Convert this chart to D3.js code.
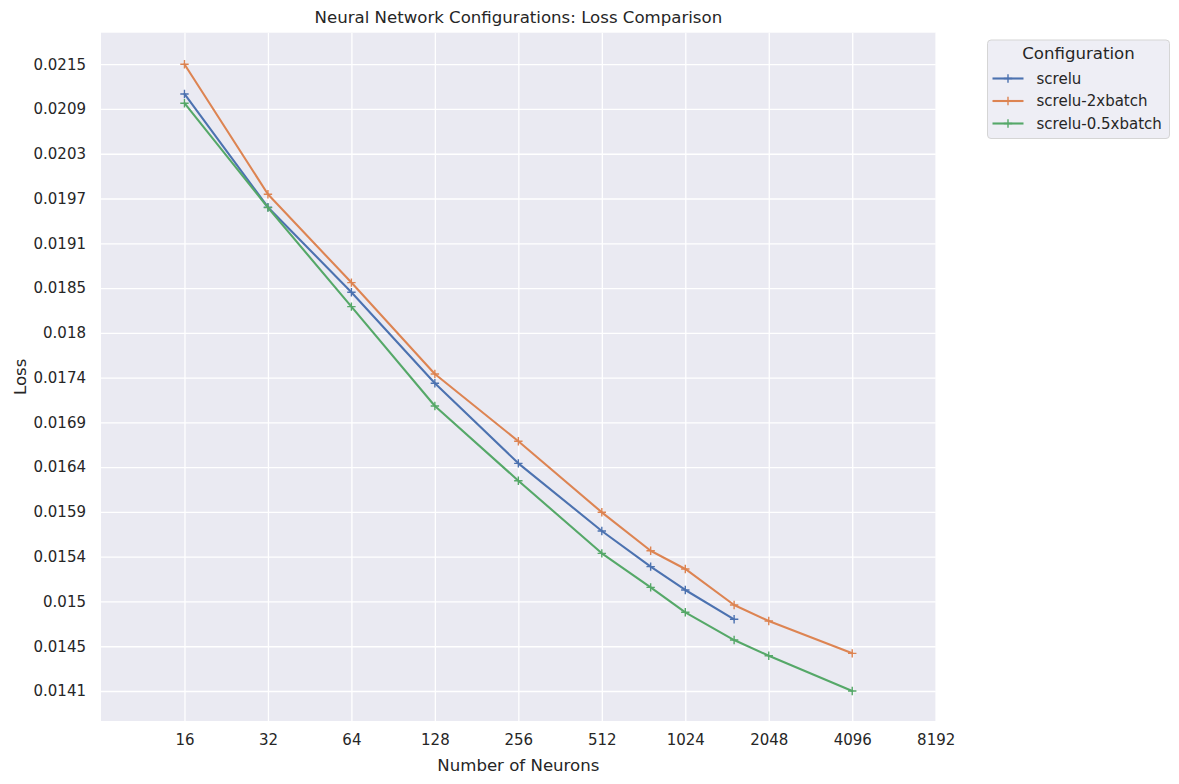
<!DOCTYPE html>
<html>
<head>
<meta charset="utf-8">
<script src="https://cdn.jsdelivr.net/npm/d3@7"></script>
<style>
    body { margin: 0; background: #ffffff; }
    svg text { font-family: "DejaVu Sans", sans-serif; fill: #262626; }
</style>
</head>
<body>
<svg id="chart" width="1179" height="784"></svg>
<script>
    // --- data ---
    var seriesNames = ["screlu", "screlu-2xbatch", "screlu-0.5xbatch"];
    var seriesColors = ["#4C72B0", "#DD8452", "#55A868"];

    var screluNeurons = [16, 32, 64, 128, 256, 512, 768, 1024, 1536];
    var batchNeurons = [16, 32, 64, 128, 256, 512, 768, 1024, 1536, 2048, 4096];

    var screluLoss = [0.021074, 0.019527, 0.018441, 0.017345, 0.016435, 0.015703, 0.015331, 0.015092, 0.014797];
    var screlu2xLoss = [0.021500, 0.019698, 0.018561, 0.017454, 0.016681, 0.015902, 0.015496, 0.015307, 0.014940, 0.014780, 0.014462];
    var screluHalfLoss = [0.020943, 0.019522, 0.018263, 0.017082, 0.016244, 0.015469, 0.015119, 0.014867, 0.014592, 0.014439, 0.014100];

    var xTickValues = [16, 32, 64, 128, 256, 512, 1024, 2048, 4096, 8192];
    var yTickLabels = ["0.0141", "0.0145", "0.015", "0.0154", "0.0159", "0.0164", "0.0169", "0.0174",
                       "0.018", "0.0185", "0.0191", "0.0197", "0.0203", "0.0209", "0.0215"];

    var series = [
        { name: seriesNames[0], color: seriesColors[0], x: screluNeurons, y: screluLoss },
        { name: seriesNames[1], color: seriesColors[1], x: batchNeurons, y: screlu2xLoss },
        { name: seriesNames[2], color: seriesColors[2], x: batchNeurons, y: screluHalfLoss }
    ];

    // --- layout ---
    var plot = { left: 101, top: 32.7, right: 935.7, bottom: 721 };
    var plotH = plot.bottom - plot.top;

    var svg = d3.select("#chart");

    var allLoss = screluLoss.concat(screlu2xLoss, screluHalfLoss);
    var yMin = d3.min(allLoss);
    var yMax = d3.max(allLoss);

    var x = d3.scaleLog().base(2)
        .domain([8, 8192])
        .range([plot.left, plot.right]);

    // data span with the axes' padding above and below
    var y = d3.scaleLog()
        .domain([yMin, yMax])
        .range([plot.bottom - 30, plot.top + 31.5]);

    // geometric ticks between min and max, labelled from yTickLabels
    var yTickValues = yTickLabels.map(function(d, i) {
        return yMin * Math.pow(yMax / yMin, i / (yTickLabels.length - 1));
    });

    // background
    svg.append("rect")
        .attr("x", plot.left)
        .attr("y", plot.top)
        .attr("width", plot.right - plot.left)
        .attr("height", plotH)
        .attr("fill", "#EAEAF2");

    // grid + tick labels via axes
    var xAxis = d3.axisBottom(x)
        .tickValues(xTickValues)
        .tickFormat(d3.format("d"))
        .tickSize(-plotH)
        .tickPadding(13);

    var gx = svg.append("g")
        .attr("transform", "translate(0," + plot.bottom + ")")
        .call(xAxis);
    gx.select(".domain").remove();
    gx.selectAll(".tick line").attr("stroke", "#ffffff").attr("stroke-width", 1.3);
    gx.selectAll(".tick text").attr("font-size", "15px").attr("fill", "#262626");

    var yAxis = d3.axisLeft(y)
        .tickValues(yTickValues)
        .tickFormat(function(d, i) { return yTickLabels[i]; })
        .tickSize(-(plot.right - plot.left))
        .tickPadding(15);

    var gy = svg.append("g")
        .attr("transform", "translate(" + plot.left + ",0)")
        .call(yAxis);
    gy.select(".domain").remove();
    gy.selectAll(".tick line").attr("stroke", "#ffffff").attr("stroke-width", 1.3);
    gy.selectAll(".tick text").attr("font-size", "15px").attr("fill", "#262626");

    // lines + '+' markers
    var line = d3.line()
        .x(function(d) { return x(d[0]); })
        .y(function(d) { return y(d[1]); });

    var markerSize = 4.2;

    series.forEach(function(s) {
        var pts = d3.zip(s.x, s.y);

        svg.append("path")
            .datum(pts)
            .attr("d", line)
            .attr("fill", "none")
            .attr("stroke", s.color)
            .attr("stroke-width", 2.1)
            .attr("stroke-linejoin", "round")
            .attr("stroke-linecap", "round");

        svg.append("g")
            .selectAll("path")
            .data(pts)
            .enter()
            .append("path")
            .attr("d", function(d) {
                var cx = x(d[0]), cy = y(d[1]);
                return "M" + (cx - markerSize) + "," + cy + "H" + (cx + markerSize) +
                       "M" + cx + "," + (cy - markerSize) + "V" + (cy + markerSize);
            })
            .attr("stroke", s.color)
            .attr("stroke-width", 1.4);
    });

    // title + axis labels
    svg.append("text")
        .attr("x", (plot.left + plot.right) / 2)
        .attr("y", 23)
        .attr("text-anchor", "middle")
        .attr("font-size", "16.6px")
        .text("Neural Network Configurations: Loss Comparison");

    svg.append("text")
        .attr("x", (plot.left + plot.right) / 2)
        .attr("y", 771)
        .attr("text-anchor", "middle")
        .attr("font-size", "16.6px")
        .text("Number of Neurons");

    svg.append("text")
        .attr("transform", "translate(26," + (plot.top + plot.bottom) / 2 + ") rotate(-90)")
        .attr("text-anchor", "middle")
        .attr("font-size", "16.6px")
        .text("Loss");

    // legend
    var legend = svg.append("g");

    legend.append("rect")
        .attr("x", 987.5)
        .attr("y", 40)
        .attr("width", 182)
        .attr("height", 98.5)
        .attr("rx", 3.5)
        .attr("fill", "#EEEEF5")
        .attr("stroke", "#D5D5D5")
        .attr("stroke-width", 1);

    legend.append("text")
        .attr("x", 1078.5)
        .attr("y", 59)
        .attr("text-anchor", "middle")
        .attr("font-size", "16.6px")
        .text("Configuration");

    series.forEach(function(s, i) {
        var ly = 78.5 + i * 22.5;
        legend.append("line")
            .attr("x1", 992.5).attr("x2", 1023.5)
            .attr("y1", ly).attr("y2", ly)
            .attr("stroke", s.color)
            .attr("stroke-width", 2.1);
        legend.append("path")
            .attr("d", "M" + (1008 - markerSize) + "," + ly + "H" + (1008 + markerSize) +
                       "M1008," + (ly - markerSize) + "V" + (ly + markerSize))
            .attr("stroke", s.color)
            .attr("stroke-width", 1.4);
        legend.append("text")
            .attr("x", 1036.5)
            .attr("y", ly + 5.3)
            .attr("font-size", "15px")
            .text(s.name);
    });
</script>
</body>
</html>
